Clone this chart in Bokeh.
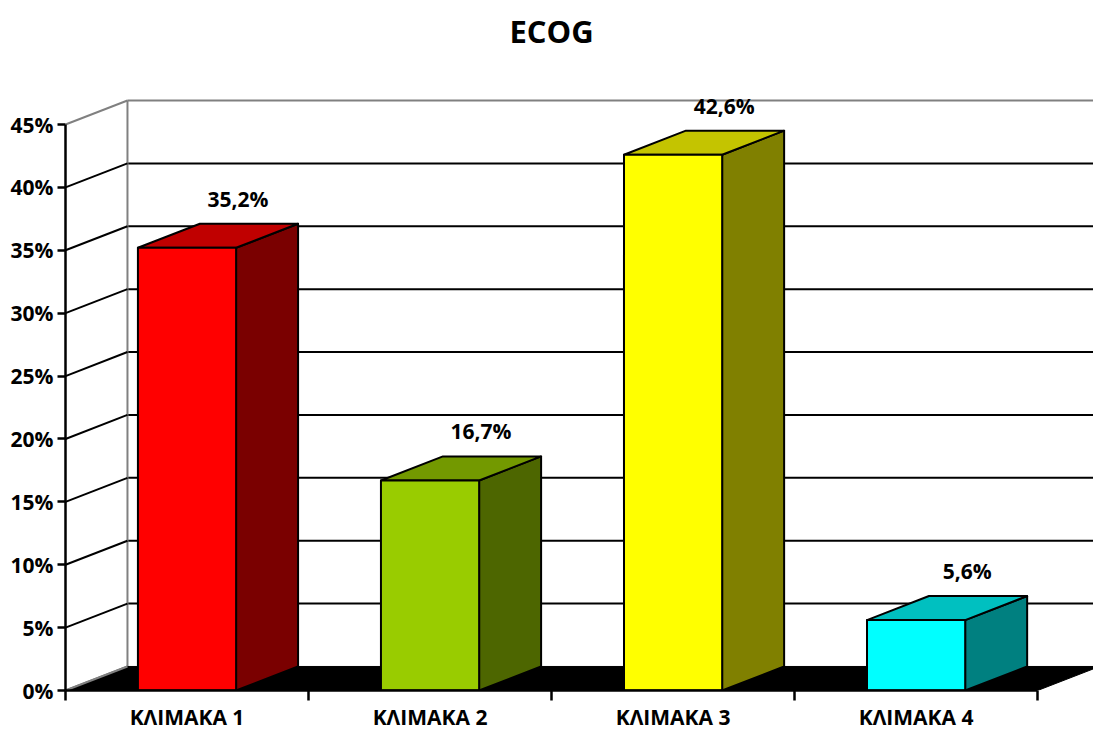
from bokeh.plotting import figure
from bokeh.models import Range1d, FixedTicker, Label, CustomJSTickFormatter
from bokeh.core.properties import value
from bokeh.embed import file_html
from bokeh.resources import INLINE

# ---------------- data ----------------
title_text = "ECOG"
categories = ["ΚΛΙΜΑΚΑ 1", "ΚΛΙΜΑΚΑ 2", "ΚΛΙΜΑΚΑ 3", "ΚΛΙΜΑΚΑ 4"]
values = [35.2, 16.7, 42.6, 5.6]
value_labels = ["35,2%", "16,7%", "42,6%", "5,6%"]
y_ticks = [0, 5, 10, 15, 20, 25, 30, 35, 40, 45]
y_tick_labels = ["0%", "5%", "10%", "15%", "20%", "25%", "30%", "35%", "40%", "45%"]
front_colors = ["#FF0000", "#99CC00", "#FFFF00", "#00FFFF"]
top_colors = ["#C00000", "#739900", "#C4C400", "#00C0C0"]
side_colors = ["#7A0000", "#4D6600", "#808000", "#008080"]

# ---------------- style / geometry ----------------
FONT = "Open Sans"
DX = 0.255          # depth offset along x (category units)
DY = 1.91           # depth offset along y (percent units)
HALF_W = 0.202      # half bar width (category units)
X_END = 4.23
Y_END = 54.86
Y_MAX = y_ticks[-1]
n = len(categories)

p = figure(width=1093, height=733, output_backend="svg", toolbar_location=None,
           x_range=Range1d(0, X_END), y_range=Range1d(0, Y_END),
           min_border_left=65, min_border_right=0, min_border_top=0, min_border_bottom=43)
p.outline_line_color = None
p.xgrid.visible = False
p.ygrid.visible = False
p.background_fill_color = "white"

# back wall horizontal gridlines
for t in y_ticks[1:]:
    col = "#808080" if t == Y_MAX else "black"
    p.line([DX, X_END], [t + DY, t + DY], line_color=col, line_width=2)
# back wall left vertical edge
p.line([DX, DX], [DY, Y_MAX + DY], line_color="#808080", line_width=2)
# left wall diagonals
for t in y_ticks:
    col = "#808080" if t in (0, Y_MAX) else "black"
    p.line([0, DX], [t, t + DY], line_color=col, line_width=2)

# floor
p.patch([0, n, n + DX, DX], [0, 0, DY, DY], fill_color="black", line_color="black")
p.line([0, DX], [0, DY], line_color="#808080", line_width=2)

# bars
centers = [i + 0.5 for i in range(n)]
side_xs, side_ys, top_xs, top_ys = [], [], [], []
for c, v in zip(centers, values):
    l, r = c - HALF_W, c + HALF_W
    side_xs.append([r, r + DX, r + DX, r])
    side_ys.append([0, DY, v + DY, v])
    top_xs.append([l, r, r + DX, l + DX])
    top_ys.append([v, v, v + DY, v + DY])
p.patches(side_xs, side_ys, fill_color=side_colors, line_color="black", line_width=2, line_join="round")
p.patches(top_xs, top_ys, fill_color=top_colors, line_color="black", line_width=2, line_join="round")
p.quad(left=[c - HALF_W for c in centers], right=[c + HALF_W for c in centers],
       bottom=0, top=values, fill_color=front_colors, line_color="black", line_width=2, line_join="round")

# value labels
p.text(x=[c + 0.21 for c in centers], y=[v + DY + 2.0 for v in values], text=value_labels,
       text_font=value(FONT), text_font_style="bold", text_font_size="21px",
       text_align="center", text_baseline="middle", text_color="black")

# title
p.add_layout(Label(x=n / 2, y=Y_END - 2.4, text=title_text, text_font=FONT, text_font_style="bold",
                   text_font_size="31px", text_align="center", text_baseline="middle", text_color="black"))

# y axis
ya = p.yaxis[0]
ya.ticker = FixedTicker(ticks=y_ticks)
ya.major_label_overrides = {t: lab for t, lab in zip(y_ticks, y_tick_labels)}
ya.bounds = (0, Y_MAX)
ya.axis_line_width = 2.5
ya.axis_line_color = "black"
ya.major_tick_out = 8
ya.major_tick_in = 0
ya.major_tick_line_width = 2.5
ya.minor_tick_line_color = None
ya.major_label_standoff = 4
ya.major_label_text_font = FONT
ya.major_label_text_font_style = "bold"
ya.major_label_text_font_size = "21px"
ya.major_label_text_color = "black"

# x axis
xa = p.xaxis[0]
xa.ticker = FixedTicker(ticks=centers, minor_ticks=list(range(n + 1)))
xa.formatter = CustomJSTickFormatter(args=dict(labels=categories),
                                     code="return labels[Math.floor(tick)];")
xa.bounds = (0, n)
xa.axis_line_width = 2.5
xa.axis_line_color = "black"
xa.major_tick_line_color = None
xa.major_tick_out = 0
xa.major_tick_in = 0
xa.minor_tick_out = 10
xa.minor_tick_in = 0
xa.minor_tick_line_width = 2.5
xa.minor_tick_line_color = "black"
xa.major_label_standoff = 2
xa.major_label_text_font = FONT
xa.major_label_text_font_style = "bold"
xa.major_label_text_font_size = "21px"
xa.major_label_text_color = "black"

open("out.html", "w").write(file_html(p, INLINE))
